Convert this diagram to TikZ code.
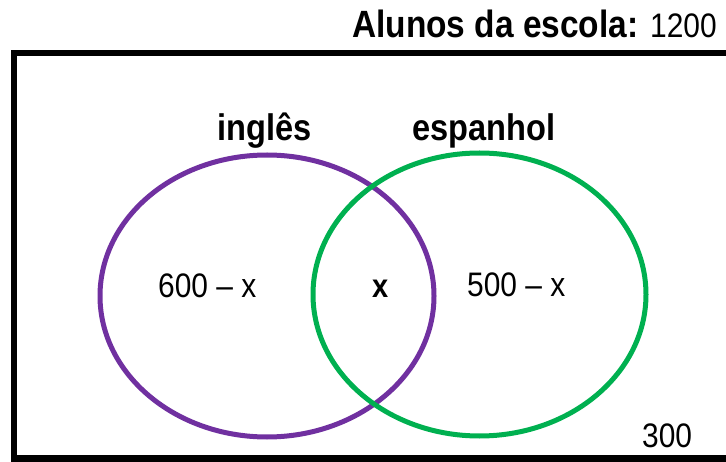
\documentclass[tikz,border=0pt]{standalone}
\usepackage{fontspec}
\setmainfont{Liberation Sans}
\newfontfamily\af[FakeStretch=0.88]{Liberation Sans}
\definecolor{vennpurple}{HTML}{7030A0}
\definecolor{venngreen}{HTML}{00B050}
\tikzset{
  txt/.style={inner sep=0pt, anchor=base west, font=\af\fontsize{34}{40}\selectfont},
  btxt/.style={inner sep=0pt, anchor=base west, font=\af\bfseries\fontsize{37}{44}\selectfont},
  setline/.style={line width=5pt},
  frame/.style={line width=6.5pt, draw=black}
}
\begin{document}
\begin{tikzpicture}[x=1pt,y=-1pt]
\useasboundingbox (0,0) rectangle (726,462);
\draw[frame] (740,53) -- (14,53) -- (14,458.5) -- (740,458.5);
\draw[setline, draw=vennpurple] (267,296) ellipse [x radius=167, y radius=141];
\draw[setline, draw=venngreen] (479.5,294.5) ellipse [x radius=166.5, y radius=141.5];
\node[btxt, font=\af\bfseries\fontsize{38}{44}\selectfont] (title) at (352,38) {Alunos da escola:};
\node[txt] (total) at (650,38) {1200};
\node[btxt] (ingles) at (217,141) {inglês};
\node[btxt] (espanhol) at (412,141) {espanhol};
\node[txt] (onlyI) at (158,298) {600 – x};
\node[txt, font=\af\bfseries\fontsize{33}{40}\selectfont] (both) at (372,298) {x};
\node[txt] (onlyE) at (467,297) {500 – x};
\node[txt] (none) at (642,447) {300};
\end{tikzpicture}
\end{document}
